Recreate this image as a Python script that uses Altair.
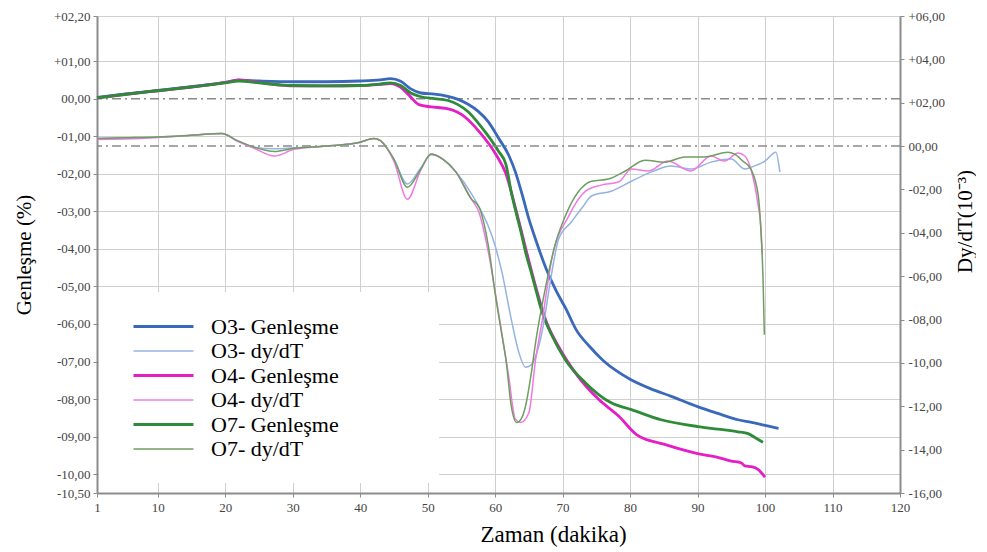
import altair as alt
import pandas as pd

SERIF = "Liberation Serif, Times New Roman, serif"

series_names = ["O3- Genleşme", "O3- dy/dT", "O4- Genleşme", "O4- dy/dT", "O7- Genleşme", "O7- dy/dT"]
series_colors = ["#3a69bb", "#93b3e0", "#e41fc6", "#f07ae3", "#2e8b37", "#6f9e60"]
series_widths = [2.8, 1.5, 2.8, 1.5, 2.8, 1.5]

x_ticks = [1, 10, 20, 30, 40, 50, 60, 70, 80, 90, 100, 110, 120]
left_ticks = [2.2, 1, 0, -1, -2, -3, -4, -5, -6, -7, -8, -9, -10, -10.5]
right_ticks = [6, 4, 2, 0, -2, -4, -6, -8, -10, -12, -14, -16]

# ---- Genleşme (left axis, %) ----
t_o3_gen = [1, 5, 10, 15, 20, 22, 25, 30, 35, 40, 43, 44.5, 46, 47.5, 49, 51, 53, 54.5, 56, 57.5, 59, 60.5,
            62, 63, 64, 65, 66, 67.5, 69, 70.5, 72, 74, 76, 78, 80, 83, 86, 90, 93, 96, 98, 100, 101, 102]
v_o3_gen = [0.03, 0.12, 0.22, 0.32, 0.43, 0.49, 0.47, 0.45, 0.45, 0.47, 0.5, 0.53, 0.46, 0.26, 0.15, 0.12, 0.06,
            -0.02, -0.15, -0.34, -0.62, -1.05, -1.5, -1.95, -2.55, -3.2, -3.75, -4.5, -5.1, -5.6, -6.15, -6.6,
            -6.97, -7.25, -7.47, -7.72, -7.92, -8.2, -8.38, -8.55, -8.62, -8.7, -8.74, -8.78]

t_o4_gen = [1, 5, 10, 15, 20, 22, 25, 28, 30, 35, 40, 43, 44.5, 46, 47.2, 48.7, 50.5, 52.7, 55, 57.6, 60.1,
            61.6, 63, 64.5, 66, 67.5, 69.4, 72.3, 75.3, 78.3, 81, 85, 90, 93, 95, 96.5, 97, 98, 99, 100]
v_o4_gen = [0.02, 0.11, 0.21, 0.31, 0.43, 0.5, 0.43, 0.36, 0.34, 0.34, 0.35, 0.38, 0.4, 0.3, 0.1, -0.16, -0.22,
            -0.26, -0.42, -0.87, -1.48, -2.0, -2.9, -3.97, -5.0, -5.9, -6.6, -7.4, -8.0, -8.45, -8.95, -9.2,
            -9.45, -9.55, -9.65, -9.7, -9.78, -9.8, -9.88, -10.08]

t_o7_gen = [1, 5, 10, 15, 20, 22, 25, 28, 30, 35, 40, 43, 44.5, 46, 47.5, 49, 51, 53, 54.5, 56, 57.5, 59, 60.5,
            61.6, 62.4, 63.2, 63.9, 64.6, 65.4, 66.2, 66.9, 68.4, 70.4, 73.4, 77.2, 80.2, 84.6, 90, 93, 96,
            97.5, 98.5, 99.7]
v_o7_gen = [0.02, 0.11, 0.21, 0.31, 0.42, 0.47, 0.42, 0.37, 0.35, 0.34, 0.35, 0.39, 0.42, 0.35, 0.15, 0.05,
            0.0, -0.05, -0.16, -0.35, -0.65, -1.0, -1.4, -1.75, -2.5, -3.1, -3.6, -4.15, -4.66, -5.2, -5.65,
            -6.3, -6.95, -7.57, -8.1, -8.28, -8.55, -8.73, -8.8, -8.87, -8.92, -9.02, -9.15]

# ---- dy/dT (right axis, 10^-3) ----
t_o3_dy = [1, 5, 10, 15, 19.5, 21.8, 24.3, 27.3, 30.2, 35, 40, 42, 43, 45, 47, 49, 50.5, 52, 54.2, 56.5, 57.6,
           59, 60, 61, 62.4, 63.5, 64.5, 65.3, 66, 67, 68, 68.7, 69.4, 71.3, 73, 74.3, 77.2, 80.2, 83.1, 86.1,
           89, 92, 95, 97, 98, 100, 101.6, 102.2]
v_o3_dy = [0.35, 0.38, 0.42, 0.5, 0.58, 0.25, -0.05, -0.12, -0.08, 0.0, 0.18, 0.35, 0.25, -0.6, -1.75, -1.0,
           -0.4, -0.55, -1.2, -2.2, -2.8, -3.7, -4.6, -5.8, -8.0, -9.5, -10.2, -10.1, -9.7, -8.5, -6.6, -5.3,
           -4.3, -3.5, -2.8, -2.3, -2.08, -1.62, -1.2, -0.92, -1.06, -0.74, -0.6, -1.06, -0.97, -0.69, -0.28,
           -1.2]

t_o4_dy = [1, 5, 10, 15, 19.5, 21.8, 24.3, 27.3, 30.2, 35, 40, 42, 43, 45, 47, 49, 50.5, 52, 54.2, 56.5, 57.6,
           59, 60.5, 62, 63, 63.8, 65, 66, 67, 68.4, 70.9, 73.4, 75.7, 78.3, 80.2, 82.7, 85.6, 89, 92, 94, 96,
           97, 97.9, 98.9, 99.4, 99.6]
v_o4_dy = [0.3, 0.33, 0.4, 0.5, 0.58, 0.22, -0.1, -0.46, -0.15, 0.0, 0.18, 0.35, 0.25, -0.7, -2.45, -1.1,
           -0.37, -0.55, -1.2, -2.45, -3.05, -4.9, -7.67, -10.6, -12.6, -12.75, -12.3, -9.84, -8.0, -5.2,
           -3.23, -2.08, -1.8, -1.66, -1.06, -1.15, -0.69, -1.15, -0.46, -0.69, -0.32, -0.46, -1.06, -2.59,
           -3.83, -5.0]

t_o7_dy = [1, 5, 10, 15, 19.5, 21.8, 24.3, 27.3, 30.2, 35, 40, 42, 43, 45, 47, 49, 50.5, 52, 54.2, 56.5, 57.6,
           59, 60.1, 61, 61.6, 62.4, 63.2, 64, 64.5, 65.3, 66, 67.5, 69, 70.4, 72.3, 74.3, 76.8, 79.3, 82.2,
           85.2, 88.1, 91.1, 94.5, 95.5, 96.7, 97.9, 99, 99.4, 99.7, 99.9]
v_o7_dy = [0.35, 0.38, 0.42, 0.5, 0.58, 0.25, -0.05, -0.25, -0.1, 0.0, 0.18, 0.35, 0.25, -0.6, -1.9, -1.05,
           -0.37, -0.55, -1.2, -2.45, -2.8, -4.6, -7.0, -8.7, -9.84, -12.0, -12.75, -12.5, -12.0, -10.6,
           -9.05, -6.47, -4.43, -3.23, -2.12, -1.62, -1.52, -1.15, -0.65, -0.74, -0.5, -0.5, -0.28, -0.37,
           -0.69, -1.06, -2.3, -3.97, -6.1, -8.7]


def frame(t, v, name):
    return pd.DataFrame({"t": t, "v": v, "series": name})


df_gen = pd.concat([frame(t_o3_gen, v_o3_gen, series_names[0]),
                    frame(t_o4_gen, v_o4_gen, series_names[2]),
                    frame(t_o7_gen, v_o7_gen, series_names[4])], ignore_index=True)
df_dy = pd.concat([frame(t_o3_dy, v_o3_dy, series_names[1]),
                   frame(t_o4_dy, v_o4_dy, series_names[3]),
                   frame(t_o7_dy, v_o7_dy, series_names[5])], ignore_index=True)

fmt = ("(datum.value > 0 ? '+' : (datum.value < 0 ? '-' : '')) + "
       "replace(format(abs(datum.value), '05.2f'), '.', ',')")

common_axis = dict(labelFont=SERIF, labelFontSize=13, labelColor="#444444", titleFont=SERIF,
                   titleFontWeight="normal", titleColor="black", domainColor="#8c8c8c", domainWidth=2,
                   tickColor="#8c8c8c", tickSize=4, labelFlush=False, labelOverlap=False)

x_enc = alt.X("t:Q", scale=alt.Scale(domain=[1, 120], nice=False, zero=False),
              axis=alt.Axis(values=x_ticks, title="Zaman (dakika)", titleFontSize=23, grid=True,
                            gridColor="#cfcfcf", labelPadding=4, titlePadding=9, titleX=456, **common_axis))

left_axis = alt.Axis(values=left_ticks, labelExpr=fmt, title="Genleşme (%)", titleFontSize=21, grid=True,
                     gridColor="#cfcfcf",
                     gridOpacity={"condition": {"test": "datum.value === 0", "value": 0}, "value": 1},
                     labelPadding=3, titlePadding=19, **common_axis)
left_scale = alt.Scale(domain=[-10.5, 2.2], nice=False, zero=False)

right_axis = alt.Axis(orient="right", values=right_ticks, labelExpr=fmt, title="Dy/dT(10⁻³)",
                      titleFontSize=21, titleAngle=270, titleBaseline="top", titleY=205, grid=False,
                      labelPadding=4, titlePadding=10, **common_axis)
right_scale = alt.Scale(domain=[-16, 6], nice=False, zero=False)

# stroke symbol drawn as a path; the trailing move-to widens the white legend box to the right
legend = alt.Legend(title=None, orient="none", legendX=2, legendY=276, fillColor="white", padding=23,
                    symbolType="M-3,0H3M24.6,0", symbolSize=400, symbolOffset=30, labelOffset=36,
                    rowPadding=2, labelFont=SERIF, labelFontSize=22, labelColor="black", labelLimit=400)

color_enc = alt.Color("series:N", scale=alt.Scale(domain=series_names, range=series_colors), legend=legend)
width_enc = alt.StrokeWidth("series:N",
                            scale=alt.Scale(type="ordinal", domain=series_names, range=series_widths),
                            legend=legend)

zero_df = pd.DataFrame({"z": [0]})
dash = [9, 4, 2, 4]

rule_left = alt.Chart(zero_df).mark_rule(color="#8a8a8a", strokeWidth=1.5, strokeDash=dash).encode(
    y=alt.Y("z:Q", scale=left_scale, axis=left_axis))
gen_lines = alt.Chart(df_gen).mark_line(interpolate="monotone").encode(
    x=x_enc, y=alt.Y("v:Q", scale=left_scale, axis=left_axis), color=color_enc, strokeWidth=width_enc)

rule_right = alt.Chart(zero_df).mark_rule(color="#8a8a8a", strokeWidth=1.5, strokeDash=dash).encode(
    y=alt.Y("z:Q", scale=right_scale, axis=right_axis))
dy_lines = alt.Chart(df_dy).mark_line(interpolate="monotone").encode(
    x=x_enc, y=alt.Y("v:Q", scale=right_scale, axis=right_axis), color=color_enc, strokeWidth=width_enc)

left = alt.layer(rule_left, gen_lines)
right = alt.layer(rule_right, dy_lines)

chart = (alt.layer(left, right)
         .resolve_scale(y="independent")
         .properties(width=803, height=477, background="white",
                     padding={"left": 5, "top": 2, "right": 0, "bottom": 5})
         .configure_view(stroke="#cfcfcf"))

chart.save("out.html", embed_options={"renderer": "svg", "actions": False})
